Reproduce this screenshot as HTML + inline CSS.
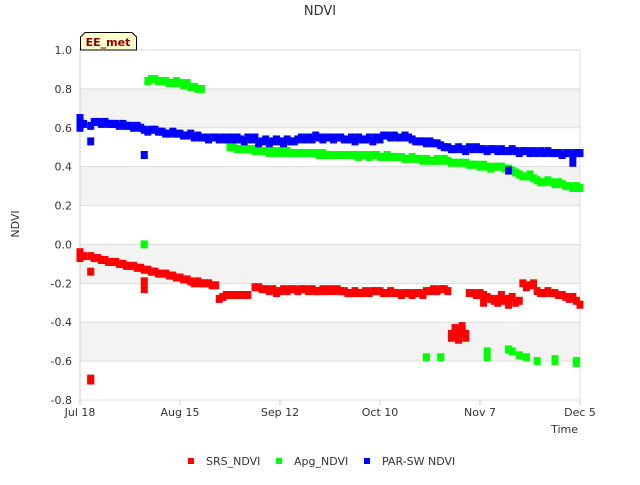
<!DOCTYPE html>
<html><head><meta charset="utf-8"><style>
body{margin:0;background:#fff;font-family:"Liberation Sans","DejaVu Sans",sans-serif;}
svg text{font-family:"DejaVu Sans","Liberation Sans",sans-serif;}
</style></head><body>
<svg id="chart" width="640" height="480" xmlns="http://www.w3.org/2000/svg">
<rect width="640" height="480" fill="#fff"/>
<g id="bands"></g>
<g id="grid"></g>
<line x1="80" y1="50" x2="80" y2="400" stroke="#ccc" stroke-width="1"/>
<line x1="580" y1="50" x2="580" y2="400" stroke="#ddd" stroke-width="1"/>
<g id="yticks"></g><g id="xticks"></g>
<g id="marks"></g>
<text x="320" y="15" text-anchor="middle" font-size="13" fill="#333">NDVI</text>
<text transform="translate(19,224) rotate(-90)" text-anchor="middle" font-size="11" fill="#333">NDVI</text>
<text x="578" y="433" text-anchor="end" font-size="11" fill="#333">Time</text>
<g>
<path d="M80.5,50 L80.5,37 L85,32.5 L132,32.5 L136.5,37 L136.5,50 Z" fill="#ffffcc" stroke="#000" stroke-width="1"/>
<text x="108" y="46" text-anchor="middle" font-size="11" font-weight="bold" fill="#8b0000">EE_met</text>
</g>
<g>
<g><rect x="188" y="458" width="6" height="6" fill="#ff0000"/><text x="206" y="465" font-size="11" fill="#333">SRS_NDVI</text></g>
<g><rect x="276" y="458" width="6" height="6" fill="#00ff00"/><text x="294" y="465" font-size="11" fill="#333">Apg_NDVI</text></g>
<g><rect x="364" y="458" width="6" height="6" fill="#0000ff"/><text x="382" y="465" font-size="11" fill="#333">PAR-SW NDVI</text></g>
</g>
</svg>
<script>
const yTicks=[1.0,0.8,0.6,0.4,0.2,0.0,-0.2,-0.4,-0.6,-0.8];
const yTickLabels=["1.0","0.8","0.6","0.4","0.2","0.0","-0.2","-0.4","-0.6","-0.8"];
const xTickDays=[0,28,56,84,112,140];
const xTickLabels=["Jul 18","Aug 15","Sep 12","Oct 10","Nov 7","Dec 5"];
const srsY=[-0.05,-0.06,null,-0.06,-0.07,-0.07,-0.08,-0.08,-0.09,-0.09,-0.09,-0.10,-0.10,-0.11,-0.11,-0.11,-0.12,-0.12,-0.13,-0.13,-0.14,-0.14,-0.15,-0.15,-0.15,-0.16,-0.16,-0.17,-0.17,-0.18,-0.18,-0.19,-0.20,-0.19,-0.20,-0.20,-0.20,-0.21,-0.21,
-0.28,-0.27,-0.26,-0.26,-0.26,-0.26,-0.26,-0.26,-0.26,null,
-0.22,-0.22,-0.23,-0.23,-0.24,-0.23,-0.25,-0.24,-0.23,-0.24,-0.23,
-0.23,-0.24,-0.23,-0.23,-0.24,-0.23,-0.24,-0.24,-0.23,-0.24,-0.23,-0.24,-0.23,-0.24,-0.24,-0.25,-0.25,-0.24,-0.25,-0.25,-0.24,-0.25,-0.24,-0.24,-0.24,-0.25,-0.25,-0.24,-0.25,-0.25,-0.26,-0.25,-0.25,-0.26,-0.25,-0.25,-0.26,-0.24,
-0.24,-0.23,-0.24,-0.23,-0.23,-0.24,
-0.46,-0.47,-0.45,-0.44,-0.46,
-0.25,-0.25,-0.26,-0.25,-0.26,
-0.27,-0.28,-0.29,-0.28,-0.26,-0.29,-0.28,-0.27,-0.30,-0.29,
-0.20,-0.22,-0.21,-0.20,
-0.24,-0.25,-0.25,-0.24,-0.25,-0.25,-0.26,-0.26,-0.27,
-0.28,-0.27,-0.29,-0.31];
const srsExtraX=[0,0,3,3,3,18,18,104,105,106,107,108,113,117,120];
const srsExtraY=[-0.04,-0.07,-0.14,-0.69,-0.70,-0.19,-0.23,-0.48,-0.43,-0.49,-0.42,-0.48,-0.30,-0.30,-0.31];
const apgY=[null,null,null,null,null,null,null,null,null,null,null,null,null,null,null,null,null,null,null,
0.84,0.85,0.85,0.84,0.84,0.84,0.83,0.83,0.84,0.83,0.82,0.83,0.81,0.81,0.80,0.80,
null,null,null,null,null,null,null,
0.50,0.50,0.49,0.49,0.49,0.49,0.49,0.48,0.48,0.48,
0.48,0.47,0.48,0.47,0.48,0.47,0.48,0.47,0.47,0.47,
0.47,0.47,0.47,0.47,0.47,0.46,0.47,0.46,0.46,0.46,
0.46,0.46,0.46,0.46,0.46,0.46,0.45,0.46,0.46,0.45,
0.46,0.46,0.45,0.45,0.46,0.45,0.45,0.45,0.45,0.44,
0.44,0.45,0.44,0.44,0.43,0.44,0.43,0.43,0.44,0.43,
0.44,0.43,0.42,0.42,0.42,0.42,0.42,0.41,0.41,0.41,
0.40,0.41,0.40,0.39,0.40,0.40,0.40,0.39,0.39,0.38,
0.37,0.36,0.35,0.35,0.36,0.34,0.33,0.32,0.32,0.33,
0.32,0.31,0.32,0.31,0.30,0.30,0.29,0.30,0.29];
const apgExtraX=[18,97,101,114,114,120,121,123,125,128,133,133,139,139];
const apgExtraY=[0.0,-0.58,-0.58,-0.55,-0.58,-0.54,-0.55,-0.57,-0.58,-0.60,-0.60,-0.59,-0.60,-0.61];
const parY=[0.64,0.62,null,0.61,0.63,0.63,0.62,0.63,0.62,0.62,
0.62,0.61,0.62,0.61,0.61,0.60,0.61,0.60,0.59,0.58,
0.59,0.59,0.58,0.58,0.57,0.57,0.58,0.57,0.57,0.56,
0.56,0.57,0.55,0.56,0.55,0.55,0.54,0.55,0.55,0.54,
0.55,0.54,0.55,0.54,0.55,0.54,0.53,0.55,0.54,0.55,
0.52,0.53,0.54,0.52,0.53,0.54,0.53,0.52,0.54,0.53,
0.53,0.54,0.55,0.54,0.55,0.54,0.56,0.55,0.54,0.55,
0.55,0.54,0.55,0.55,0.54,0.54,0.55,0.53,0.55,0.54,
0.54,0.55,0.53,0.55,0.54,0.56,0.56,0.55,0.56,0.55,
0.55,0.56,0.55,0.54,0.53,0.53,0.53,0.52,0.53,0.52,
0.52,0.51,0.50,0.50,0.49,0.49,0.50,0.49,0.48,0.50,
0.49,0.50,0.49,0.49,0.48,0.49,0.49,0.48,0.49,0.48,
0.48,0.49,0.48,0.47,0.48,0.48,0.47,0.48,0.47,0.48,
0.47,0.48,0.47,0.47,0.47,0.46,0.47,0.47,0.46,0.47,0.47];
const parExtraX=[0,0,3,18,120,138];
const parExtraY=[0.65,0.60,0.53,0.46,0.38,0.42];

const X0=80,X1=580,D0=0,D1=140,Y0=400,Y1=50,V0=-0.8,V1=1.0;
function xs(d){return X0+(d-D0)/(D1-D0)*(X1-X0);}
function ys(v){return Y0-(v-V0)/(V1-V0)*(Y0-Y1);}
const NS="http://www.w3.org/2000/svg";
function mk(tag,attrs,parent){const e=document.createElementNS(NS,tag);for(const k in attrs)e.setAttribute(k,attrs[k]);parent.appendChild(e);return e;}
const bands=document.getElementById('bands'),grid=document.getElementById('grid');
for(let i=0;i<yTicks.length-1;i++){
  const b=mk('rect',{x:X0,y:ys(yTicks[i]),width:X1-X0,height:ys(yTicks[i+1])-ys(yTicks[i]),fill:(i%2===1)?'#f3f3f3':'#ffffff'},bands);
  
  
}
const yt=document.getElementById('yticks');
yTicks.forEach((v,i)=>{
  const l=mk('line',{x1:X0,x2:X1,y1:ys(v),y2:ys(v),stroke:'#ddd','stroke-width':1},grid);
  
  
  const t=mk('text',{x:72,y:ys(v)+4,'text-anchor':'end','font-size':11,fill:'#333'},yt);
  t.textContent=yTickLabels[i];
  
  
});
const xt=document.getElementById('xticks');
xTickDays.forEach((d,i)=>{
  const l=mk('line',{x1:xs(d),x2:xs(d),y1:Y0,y2:Y0+5,stroke:'#ccc'},xt);
  
  
  const t=mk('text',{x:xs(d),y:416,'text-anchor':'middle','font-size':11,fill:'#333'},xt);
  t.textContent=xTickLabels[i];
  
  
});
const marks=document.getElementById('marks');
function pt(d,v,c,name){
  const r=mk('rect',{x:xs(d)-3.5,y:ys(v)-4,width:7,height:8,fill:c},marks);
  
  
}
function series(arr,ex,ey,c,name){
  arr.forEach((v,d)=>{if(v!==null)pt(d,v,c,name);});
  ex.forEach((d,i)=>pt(d,ey[i],c,name));
}
series(srsY,srsExtraX,srsExtraY,'#ff0000','srs-point');
series(apgY,apgExtraX,apgExtraY,'#00ff00','apg-point');
series(parY,parExtraX,parExtraY,'#0000ff','parsw-point');
</script>
</body></html>
